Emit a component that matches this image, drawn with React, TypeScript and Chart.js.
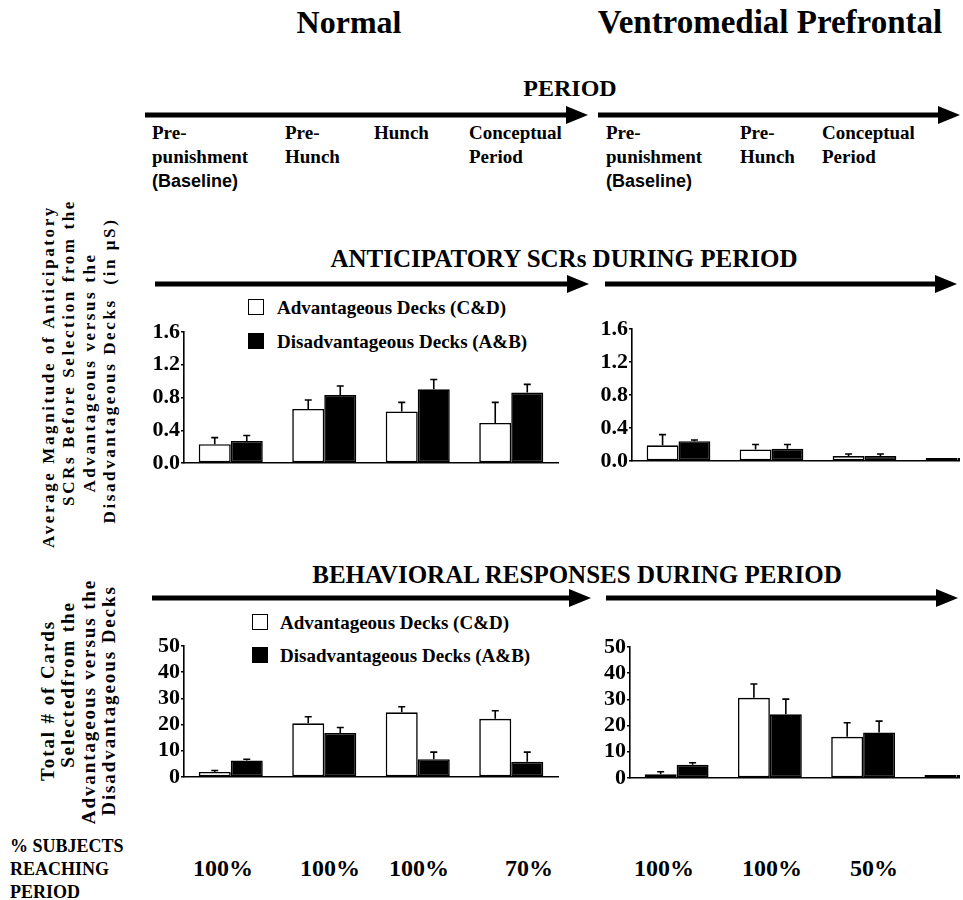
import React, { useEffect, useRef } from "react";
import { Chart, registerables } from "chart.js";

Chart.register(...registerables);

// ---------- DATA ----------
const normalPeriods = ["Pre-punishment", "Pre-Hunch", "Hunch", "Conceptual"];
const vmPeriods = ["Pre-punishment", "Pre-Hunch", "Conceptual", "Hunch"];

const normalHeaders = [["Pre-", "punishment", "(Baseline)"], ["Pre-", "Hunch"], ["Hunch"], ["Conceptual", "Period"]];
const vmHeaders = [["Pre-", "punishment", "(Baseline)"], ["Pre-", "Hunch"], ["Conceptual", "Period"]];

const scrNormalAdv = [0.23, 0.66, 0.63, 0.49];
const scrNormalAdvErr = [0.08, 0.11, 0.11, 0.25];
const scrNormalDis = [0.27, 0.83, 0.9, 0.86];
const scrNormalDisErr = [0.065, 0.11, 0.12, 0.1];

const scrVmAdv = [0.19, 0.14, 0.06, 0];
const scrVmAdvErr = [0.13, 0.06, 0.025, 0];
const scrVmDis = [0.24, 0.15, 0.06, 0];
const scrVmDisErr = [0.015, 0.05, 0.025, 0];

const cardsNormalAdv = [1.9, 20.5, 24.7, 22.2];
const cardsNormalAdvErr = [0.6, 2.5, 2.1, 3.1];
const cardsNormalDis = [6.3, 16.8, 6.8, 5.8];
const cardsNormalDisErr = [0.5, 2.1, 2.7, 3.7];

const cardsVmAdv = [1.4, 30.6, 15.7, 0];
const cardsVmAdvErr = [1.0, 5.3, 5.4, 0];
const cardsVmDis = [5.1, 24.3, 17.4, 0];
const cardsVmDisErr = [0.7, 5.8, 4.3, 0];

const scrAxis = { max: 1.6, step: 0.4, decimals: 1 };
const cardsAxis = { max: 50, step: 10, decimals: 0 };

const pctNormal = ["100%", "100%", "100%", "70%"];
const pctVm = ["100%", "100%", "50%"];

const legendLabels = ["Advantageous Decks (C&D)", "Disadvantageous Decks (A&B)"];

const scrTitleLines = [
  "Average Magnitude of Anticipatory",
  "SCRs Before Selection from the",
  "Advantageous versus the",
  "Disadvantageous Decks  (in \u03bcS)",
];
const cardsTitleLines = ["Total # of Cards", "Selectedfrom the", "Advantageous versus the", "Disadvantageous Decks"];

// ---------- STYLE ----------
const SERIF = "'Liberation Serif', 'Times New Roman', Times, serif";
const SANS = "'Liberation Sans', Arial, Helvetica, sans-serif";

function Txt(props: {
  x: number;
  y: number;
  size: number;
  children: React.ReactNode;
  align?: "left" | "center" | "right";
  family?: string;
  ls?: number;
}) {
  const { x, y, size, children, align = "left", family = SERIF, ls = 0 } = props;
  const W = 800;
  const left = align === "left" ? x : align === "center" ? x - W / 2 : x - W;
  return (
    <div
      style={{
        position: "absolute",
        left,
        top: y - size / 2,
        width: W,
        lineHeight: size + "px",
        fontSize: size,
        fontFamily: family,
        fontWeight: 700,
        textAlign: align,
        whiteSpace: "nowrap",
        letterSpacing: ls,
        color: "#000",
      }}
    >
      {children}
    </div>
  );
}

function VTxt(props: { cx: number; cy: number; size: number; text: string; ls?: number }) {
  const { cx, cy, size, text, ls = 0 } = props;
  const W = 600;
  return (
    <div
      style={{
        position: "absolute",
        left: cx - W / 2,
        top: cy - size / 2,
        width: W,
        height: size,
        lineHeight: size + "px",
        fontSize: size,
        fontFamily: SERIF,
        fontWeight: 700,
        textAlign: "center",
        whiteSpace: "pre",
        letterSpacing: ls,
        transform: "rotate(-90deg)",
        color: "#000",
      }}
    >
      {text}
    </div>
  );
}

function arrowPath(x1: number, x2: number, y: number) {
  const t = 2.6;
  const hl = 22;
  const hh = 9;
  const xb = x2 - hl;
  return `M${x1},${y - t} L${xb},${y - t} L${xb},${y - hh} L${x2},${y} L${xb},${y + hh} L${xb},${y + t} L${x1},${y + t} Z`;
}

const errorBarPlugin = {
  id: "errorBarsCustom",
  afterDatasetsDraw(chart: any) {
    const errs: number[][] = chart.options.plugins.errorBarsCustom.errors;
    const ctx = chart.ctx;
    const ys = chart.scales.y;
    chart.data.datasets.forEach((ds: any, i: number) => {
      const meta = chart.getDatasetMeta(i);
      meta.data.forEach((bar: any, j: number) => {
        const v = ds.data[j];
        const e = errs[i][j];
        if (!e) return;
        const yb = ys.getPixelForValue(v);
        const yt = ys.getPixelForValue(v + e);
        ctx.save();
        ctx.strokeStyle = "#000";
        ctx.lineWidth = 1.6;
        ctx.beginPath();
        ctx.moveTo(bar.x, yb);
        ctx.lineTo(bar.x, yt);
        ctx.moveTo(bar.x - 3.5, yt);
        ctx.lineTo(bar.x + 3.5, yt);
        ctx.stroke();
        ctx.restore();
      });
    });
  },
};

function BarPanel(props: {
  left: number;
  top: number;
  width: number;
  height: number;
  clip?: number;
  yAxisWidth: number;
  padRight: number;
  labels: string[];
  adv: number[];
  advErr: number[];
  dis: number[];
  disErr: number[];
  axis: { max: number; step: number; decimals: number };
}) {
  const ref = useRef<HTMLCanvasElement>(null);
  const p = props;
  useEffect(() => {
    const chart = new Chart(ref.current as HTMLCanvasElement, {
      type: "bar",
      data: {
        labels: p.labels,
        datasets: [
          {
            label: legendLabels[0],
            data: p.adv,
            backgroundColor: "#ffffff",
            borderColor: "#000000",
            borderWidth: 1.6,
            borderSkipped: false,
            minBarLength: 3,
          },
          {
            label: legendLabels[1],
            data: p.dis,
            backgroundColor: "#000000",
            borderColor: "#000000",
            borderWidth: 1.6,
            borderSkipped: false,
            minBarLength: 3,
          },
        ],
      },
      options: {
        animation: false,
        responsive: false,
        maintainAspectRatio: false,
        layout: { padding: { top: 16, right: p.padRight, bottom: 18, left: 0 } },
        datasets: { bar: { categoryPercentage: 0.685, barPercentage: 1 } },
        plugins: {
          legend: { display: false },
          tooltip: { enabled: false },
          errorBarsCustom: { errors: [p.advErr, p.disErr] },
        } as any,
        scales: {
          x: {
            grid: { display: false, drawTicks: false },
            ticks: { display: false },
            border: { display: true, color: "#000", width: 1.6 },
          },
          y: {
            min: 0,
            max: p.axis.max,
            afterFit: (s: any) => {
              s.width = p.yAxisWidth;
            },
            ticks: {
              stepSize: p.axis.step,
              autoSkip: false,
              color: "#000",
              padding: 1,
              font: { family: "Liberation Serif", weight: "bold", size: 22, lineHeight: 1 },
              callback: (v: any) => Number(v).toFixed(p.axis.decimals),
            },
            grid: { drawOnChartArea: false, color: "#000", tickLength: 3, lineWidth: 1.5 },
            border: { color: "#000", width: 1.6 },
          },
        },
      },
      plugins: [errorBarPlugin],
    } as any);
    return () => chart.destroy();
  }, []);
  return (
    <div
      style={{
        position: "absolute",
        left: p.left,
        top: p.top,
        width: p.clip ?? p.width,
        height: p.height,
        overflow: "hidden",
      }}
    >
      <canvas ref={ref} width={p.width} height={p.height} style={{ width: p.width, height: p.height, display: "block" }} />
    </div>
  );
}

function Legend(props: { x: number; y1: number; y2: number; tx: number }) {
  const { x, y1, y2, tx } = props;
  const sq = (y: number, fill: string) => (
    <div
      style={{
        position: "absolute",
        left: x,
        top: y - 8,
        width: 14,
        height: 14,
        border: "1.6px solid #000",
        background: fill,
      }}
    />
  );
  return (
    <>
      {sq(y1, "#fff")}
      {sq(y2, "#000")}
      <Txt x={tx} y={y1} size={19}>
        {legendLabels[0]}
      </Txt>
      <Txt x={tx} y={y2} size={19}>
        {legendLabels[1]}
      </Txt>
    </>
  );
}

function Headers(props: { xs: number[]; headers: string[][] }) {
  const rows = [132, 156, 181];
  return (
    <>
      {props.headers.map((lines, i) =>
        lines.map((line, k) => (
          <Txt
            key={i + "-" + k}
            x={props.xs[i]}
            y={rows[k]}
            size={k === 2 ? 18 : 19}
            family={k === 2 ? SANS : SERIF}
          >
            {line}
          </Txt>
        ))
      )}
    </>
  );
}

export default function App() {
  const scrCenters = [376, 352, 372, 370];
  const cardCenters = [700, 684, 701, 700];
  return (
    <div
      style={{
        position: "fixed",
        left: 0,
        top: 0,
        width: 963,
        height: 900,
        overflow: "hidden",
        background: "#fff",
      }}
    >
      <svg width={963} height={900} style={{ position: "absolute", left: 0, top: 0 }}>
        <path d={arrowPath(145, 588, 115)} fill="#000" />
        <path d={arrowPath(598, 960, 115)} fill="#000" />
        <path d={arrowPath(155, 589, 284)} fill="#000" />
        <path d={arrowPath(605, 957, 284)} fill="#000" />
        <path d={arrowPath(152, 591, 598)} fill="#000" />
        <path d={arrowPath(606, 958, 598)} fill="#000" />
      </svg>

      <Txt x={349} y={22} size={32} align="center">
        Normal
      </Txt>
      <Txt x={770} y={22} size={33} align="center">
        Ventromedial Prefrontal
      </Txt>
      <Txt x={570} y={88} size={24} align="center">
        PERIOD
      </Txt>

      <Headers xs={[152, 285, 374, 469]} headers={normalHeaders} />
      <Headers xs={[606, 740, 822]} headers={vmHeaders} />

      <Txt x={564} y={258} size={25} align="center">
        ANTICIPATORY SCRs DURING PERIOD
      </Txt>
      <Txt x={577} y={574} size={25} align="center">
        BEHAVIORAL RESPONSES DURING PERIOD
      </Txt>

      {scrTitleLines.map((t, i) => (
        <VTxt key={"s" + i} cx={48 + i * 20.3} cy={scrCenters[i]} size={17} text={t} ls={2.6} />
      ))}
      {cardsTitleLines.map((t, i) => (
        <VTxt key={"c" + i} cx={47 + i * 20.3} cy={cardCenters[i]} size={19} text={t} ls={1.9} />
      ))}

      <Legend x={248} y1={307} y2={341} tx={277} />
      <Legend x={252} y1={622} y2={655} tx={280} />

      <BarPanel
        left={120}
        top={316}
        width={450}
        height={165}
        yAxisWidth={64}
        padRight={12}
        labels={normalPeriods}
        adv={scrNormalAdv}
        advErr={scrNormalAdvErr}
        dis={scrNormalDis}
        disErr={scrNormalDisErr}
        axis={scrAxis}
      />
      <BarPanel
        left={570}
        top={313}
        width={450}
        height={166}
        clip={390}
        yAxisWidth={62}
        padRight={16}
        labels={vmPeriods}
        adv={scrVmAdv}
        advErr={scrVmAdvErr}
        dis={scrVmDis}
        disErr={scrVmDisErr}
        axis={scrAxis}
      />
      <BarPanel
        left={120}
        top={630}
        width={450}
        height={165}
        yAxisWidth={64}
        padRight={12}
        labels={normalPeriods}
        adv={cardsNormalAdv}
        advErr={cardsNormalAdvErr}
        dis={cardsNormalDis}
        disErr={cardsNormalDisErr}
        axis={cardsAxis}
      />
      <BarPanel
        left={570}
        top={631}
        width={450}
        height={165}
        clip={390}
        yAxisWidth={60}
        padRight={17}
        labels={vmPeriods}
        adv={cardsVmAdv}
        advErr={cardsVmAdvErr}
        dis={cardsVmDis}
        disErr={cardsVmDisErr}
        axis={cardsAxis}
      />

      <Txt x={10} y={846} size={18}>
        % SUBJECTS
      </Txt>
      <Txt x={10} y={869} size={18}>
        REACHING
      </Txt>
      <Txt x={10} y={892} size={18}>
        PERIOD
      </Txt>
      {pctNormal.map((t, i) => (
        <Txt key={"pn" + i} x={[223, 330, 419, 529][i]} y={868} size={24} align="center">
          {t}
        </Txt>
      ))}
      {pctVm.map((t, i) => (
        <Txt key={"pv" + i} x={[664, 772, 874][i]} y={868} size={24} align="center">
          {t}
        </Txt>
      ))}
    </div>
  );
}
